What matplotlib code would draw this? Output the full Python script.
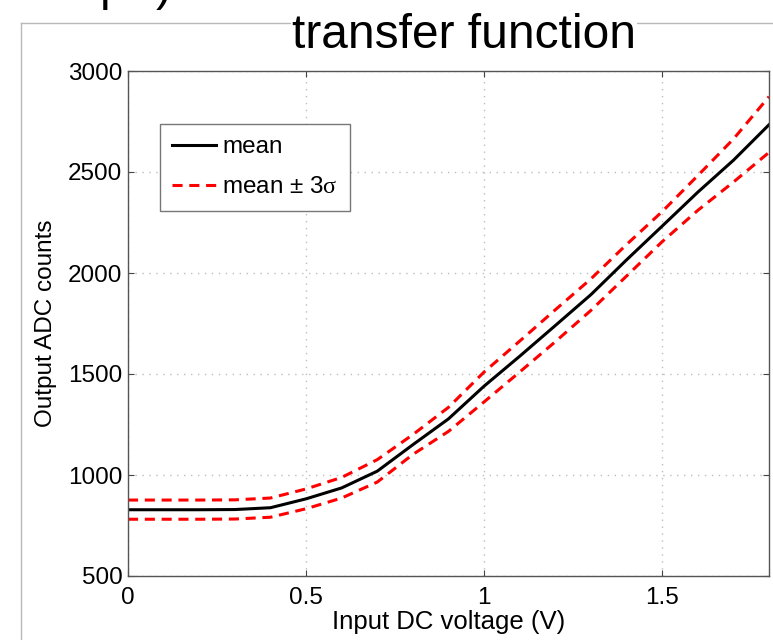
import matplotlib
matplotlib.use("Agg")
import matplotlib.pyplot as plt
from matplotlib.lines import Line2D

plt.rcParams["font.family"] = ["Liberation Sans", "DejaVu Sans"]
plt.rcParams["mathtext.fontset"] = "custom"
plt.rcParams["mathtext.rm"] = "Liberation Serif"

# input DC voltage (V)
volts = [0.0, 0.1, 0.2, 0.3, 0.4, 0.5, 0.6, 0.7, 0.8, 0.9,
         1.0, 1.1, 1.2, 1.3, 1.4, 1.5, 1.6, 1.7, 1.8]
# output ADC counts
mean_counts = [828, 828, 828, 829, 838, 882, 936, 1019, 1150, 1278,
               1440, 1588, 1740, 1893, 2065, 2232, 2400, 2558, 2734]
upper_counts = [876, 876, 876, 877, 886, 931, 988, 1076, 1200, 1335,
                1510, 1663, 1818, 1971, 2141, 2304, 2482, 2663, 2873]
lower_counts = [781, 781, 781, 782, 791, 833, 886, 965, 1102, 1216,
                1362, 1510, 1660, 1815, 1985, 2155, 2310, 2450, 2597]

x_ticks = [0, 0.5, 1, 1.5]
x_tick_labels = ["0", "0.5", "1", "1.5"]
y_ticks = [500, 1000, 1500, 2000, 2500, 3000]

W, H = 773, 640
fig = plt.figure(figsize=(W / 100, H / 100), dpi=100)
fig.patch.set_facecolor("white")

# slide frame lines
fig.add_artist(Line2D([21 / W, 1], [1 - 23 / H] * 2, transform=fig.transFigure,
                      color="#b8b8b8", lw=1.0, zorder=0))
fig.add_artist(Line2D([21 / W] * 2, [0, 1 - 23 / H], transform=fig.transFigure,
                      color="#b8b8b8", lw=1.0, zorder=0))

# cut-off text from the slide above
fig.text(100 / W, 1.0, "p", fontsize=34.5, va="baseline", ha="left")
fig.text(156 / W, 1.0, ")", fontsize=34.5, va="baseline", ha="left")

fig.text(464 / W, 1 - 48 / H, "transfer function", fontsize=34.5,
         ha="center", va="baseline", zorder=5,
         bbox=dict(facecolor="white", edgecolor="none", pad=1))

ax = fig.add_axes([128 / W, 1 - 576 / H, 641 / W, 505 / H])

ax.plot(volts, mean_counts, color="black", lw=2.2, label="mean")
ax.plot(volts, upper_counts, color="#ff0000", lw=2.2, dashes=(3.3, 2.2),
        label="mean \u00b1 3$\\mathrm{\u03c3}$")
ax.plot(volts, lower_counts, color="#ff0000", lw=2.2, dashes=(3.3, 2.2))

ax.set_xlim(0, 1.8)
ax.set_ylim(500, 3000)
ax.set_xticks(x_ticks)
ax.set_xticklabels(x_tick_labels)
ax.set_yticks(y_ticks)

ax.grid(True, linestyle=(0, (1, 4)), color="#bdbdbd", lw=1.0)
ax.tick_params(direction="in", length=4, width=0.8, color="#444444",
               labelsize=17.5, top=True, right=True)
ax.tick_params(axis="x", pad=8)
ax.tick_params(axis="y", pad=4)
for s in ax.spines.values():
    s.set_color("#555555")
    s.set_linewidth(1.0)

ax.set_xlabel("Input DC voltage (V)", fontsize=18.5, labelpad=1)
ax.set_ylabel("Output ADC counts", fontsize=17.5, labelpad=8)

leg = ax.legend(loc="upper left", bbox_to_anchor=(0.05, 0.895), borderaxespad=0,
                fontsize=17.5, fancybox=False, framealpha=1, edgecolor="#777777",
                handlelength=1.8, handletextpad=0.25, labelspacing=0.75,
                borderpad=0.5)
leg.get_frame().set_linewidth(1.0)

fig.savefig("out.png", dpi=100)
